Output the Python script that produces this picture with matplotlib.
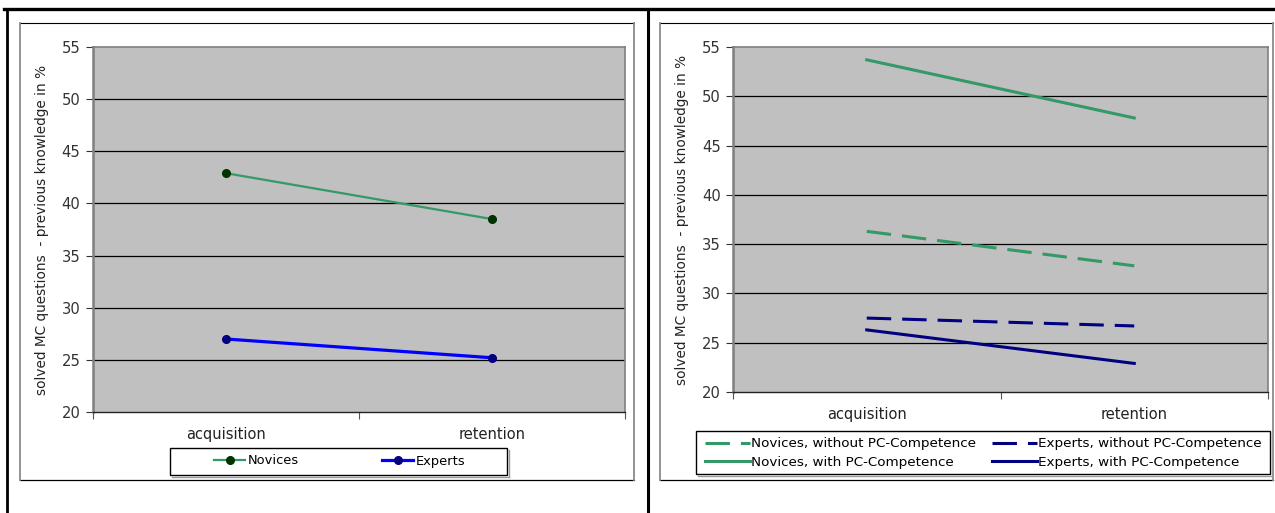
import matplotlib
matplotlib.use("Agg")
import matplotlib.pyplot as plt
from matplotlib.lines import Line2D
from matplotlib.patches import Rectangle

# ---- data ----
phases = ["acquisition", "retention"]

novices = [42.9, 38.5]
experts = [27.0, 25.2]

novices_without_pc = [36.3, 32.8]
novices_with_pc = [53.7, 47.8]
experts_without_pc = [27.5, 26.7]
experts_with_pc = [26.3, 22.9]

y_ticks = [20, 25, 30, 35, 40, 45, 50, 55]
y_label = "solved MC questions  - previous knowledge in %"

GREEN = "#339966"
DARK_GREEN = "#003300"
BLUE = "#0000FF"
NAVY = "#000080"
PLOT_BG = "#C0C0C0"

W, H = 1275, 513
fig = plt.figure(figsize=(W / 100, H / 100), dpi=100)
plt.rcParams["font.family"] = ["DejaVu Sans"]


def px_axes(x0, y0, x1, y1):
    """Create axes from pixel box (top-left origin)."""
    return fig.add_axes([x0 / W, 1 - y1 / H, (x1 - x0) / W, (y1 - y0) / H])


def fig_line(xs, ys, **kw):
    fig.add_artist(Line2D([x / W for x in xs], [1 - y / H for y in ys],
                          transform=fig.transFigure, **kw))


def fig_box(x0, y0, x1, y1, **kw):
    fig.add_artist(Rectangle((x0 / W, 1 - y1 / H), (x1 - x0) / W,
                             (y1 - y0) / H, transform=fig.transFigure,
                             fill=False, **kw))


# outer table frame
fig_line([4, W], [9, 9], color="black", lw=2.4)
fig_line([6.5, 6.5], [9, H], color="black", lw=2.0)
fig_line([647.5, 647.5], [9, H], color="black", lw=2.2)

# chart area boxes
for (bx0, bx1) in [(20, 634), (660, 1273)]:
    fig_line([bx0, bx1], [22.5, 22.5], color="black", lw=0.8)
    fig_line([bx0, bx1], [480, 480], color="black", lw=0.9)
    fig_line([bx0, bx0], [22.5, 480], color="#8a8a8a", lw=1.3)
    fig_line([bx1, bx1], [22.5, 480], color="#8a8a8a", lw=1.3)


def style_axes(ax):
    ax.set_facecolor(PLOT_BG)
    ax.set_xlim(0, 2)
    ax.set_ylim(20, 55)
    ax.set_yticks(y_ticks)
    ax.set_xticks([0, 1, 2])
    ax.set_xticklabels([])
    ax.set_xticks([0.5, 1.5], minor=True)
    ax.set_xticklabels(phases, minor=True)
    ax.tick_params(axis="x", which="minor", length=0, pad=11, labelsize=10.5,
                   labelcolor="#222222")
    ax.tick_params(axis="x", which="major", length=5, direction="out",
                   color="#555555")
    ax.tick_params(axis="y", length=5, direction="out", color="#333333",
                   labelsize=10.6, labelcolor="#333333", pad=4)
    for y in y_ticks[1:-1]:
        ax.axhline(y, color="black", lw=0.9, zorder=1)
    for s in ["top", "right"]:
        ax.spines[s].set_color("#808080")
        ax.spines[s].set_linewidth(1.2)
    ax.spines["left"].set_color("#808080")
    ax.spines["left"].set_linewidth(1.8)
    ax.spines["bottom"].set_color("#222222")
    ax.spines["bottom"].set_linewidth(1.0)
    ax.set_ylabel(y_label, fontsize=9.8, color="#222222", labelpad=9)


x = [0.5, 1.5]

# ---- left chart ----
ax1 = px_axes(93, 47, 625, 412)
style_axes(ax1)
ax1.plot(x, novices, color=GREEN, lw=1.6, marker="o", ms=5.5,
         mfc=DARK_GREEN, mec=DARK_GREEN, label="Novices", zorder=3)
ax1.plot(x, experts, color=BLUE, lw=2.3, marker="o", ms=5.5,
         mfc=NAVY, mec=NAVY, label="Experts", zorder=3)
ax1.legend(loc="center", bbox_to_anchor=(339.5 / W, 1 - 461 / H),
           bbox_transform=fig.transFigure, ncol=2, fontsize=9.4,
           frameon=False, handlelength=2.4, handletextpad=0.15,
           columnspacing=6.4, borderpad=0.2)
fig_box(170, 448, 507, 475, edgecolor="black", lw=1.0)
fig_line([508.5, 508.5], [449.5, 476.5], color="#9a9a9a", lw=1.0)
fig_line([171.5, 508.5], [476.5, 476.5], color="#9a9a9a", lw=1.0)

# ---- right chart ----
ax2 = px_axes(733, 47, 1268, 392)
style_axes(ax2)
dash = (0, (8, 3.6))
ax2.plot(x, novices_without_pc, color=GREEN, lw=2.2, ls=dash,
         label="Novices, without PC-Competence", zorder=3)
ax2.plot(x, novices_with_pc, color=GREEN, lw=2.2,
         label="Novices, with PC-Competence", zorder=3)
ax2.plot(x, experts_without_pc, color=NAVY, lw=2.2, ls=dash,
         label="Experts, without PC-Competence", zorder=3)
ax2.plot(x, experts_with_pc, color=NAVY, lw=2.2,
         label="Experts, with PC-Competence", zorder=3)
ax2.legend(loc="center", bbox_to_anchor=(983.5 / W, 1 - 453 / H),
           bbox_transform=fig.transFigure, ncol=2, fontsize=9.7,
           frameon=False, handlelength=3.3, handletextpad=0.1,
           columnspacing=1.2, borderpad=0.2, labelspacing=0.4)
fig_box(696, 431, 1270, 474, edgecolor="black", lw=1.0)
fig_line([1271.5, 1271.5], [432.5, 475.5], color="#9a9a9a", lw=1.0)
fig_line([697.5, 1271.5], [475.5, 475.5], color="#9a9a9a", lw=1.0)

fig.savefig("out.png", dpi=100, facecolor="white")
